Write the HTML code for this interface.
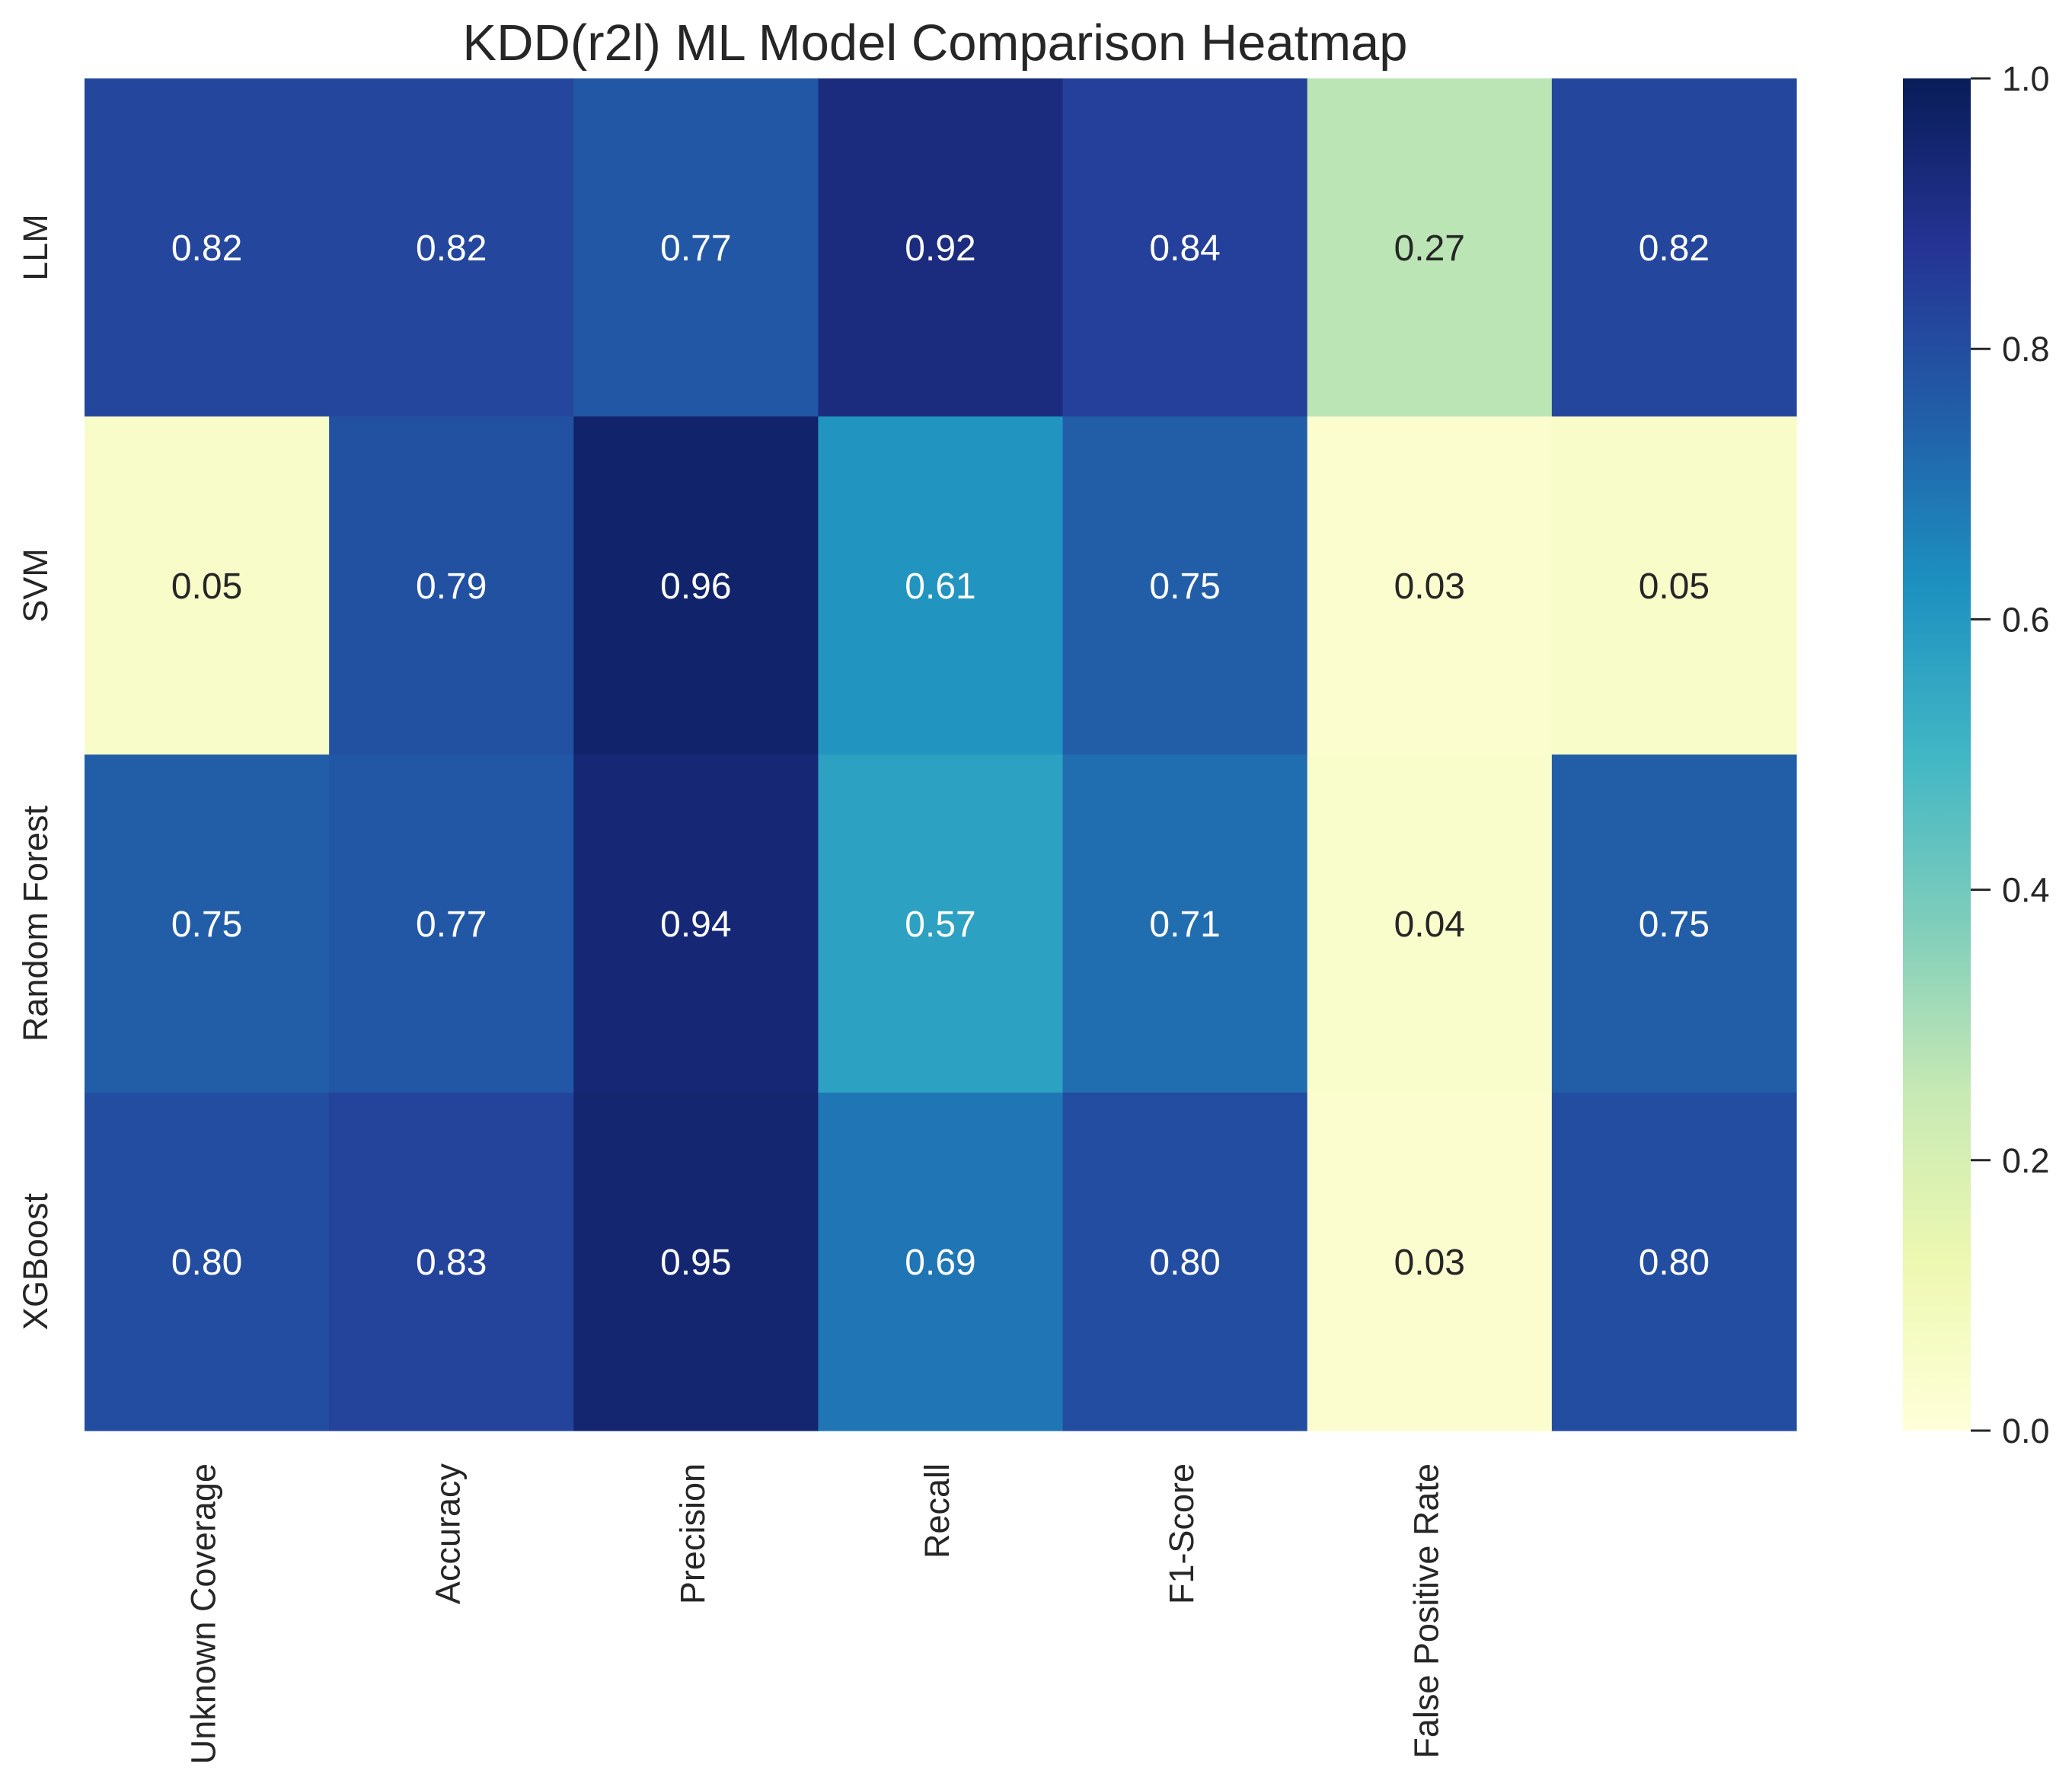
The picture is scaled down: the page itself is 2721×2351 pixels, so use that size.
<!DOCTYPE html>
<html><head><meta charset="utf-8"><style>
html,body{margin:0;padding:0;background:#fff;}
svg{display:block;font-family:"Liberation Sans",Arial,sans-serif;}
</style></head><body>
<svg id="chart" width="2721" height="2351" viewBox="0 0 2721 2351" xmlns="http://www.w3.org/2000/svg">
<defs>
<linearGradient id="cbgrad" x1="0" y1="1" x2="0" y2="0">
<stop offset="0" stop-color="#ffffd9"/><stop offset="0.125" stop-color="#edf8b1"/><stop offset="0.25" stop-color="#c7e9b4"/><stop offset="0.375" stop-color="#7fcdbb"/><stop offset="0.5" stop-color="#41b6c4"/><stop offset="0.625" stop-color="#1d91c0"/><stop offset="0.75" stop-color="#225ea8"/><stop offset="0.875" stop-color="#253494"/><stop offset="1" stop-color="#081d58"/>
</linearGradient>
</defs>
<text x="1228" y="79" font-size="67" text-anchor="middle" fill="#262626">KDD(r2l) ML Model Comparison Heatmap</text>
<g id="cells"></g>
<g id="xlabels"></g>
<g id="ylabels"></g>
<rect x="2499" y="103" width="89" height="1776" fill="url(#cbgrad)"/>
<g id="cbticks"></g>
</svg>
<script>
const models = ["LLM", "SVM", "Random Forest", "XGBoost"];
const metrics = ["Unknown Coverage", "Accuracy", "Precision", "Recall", "F1-Score", "False Positive Rate", ""];
const llmValues = [0.82, 0.82, 0.77, 0.92, 0.84, 0.27, 0.82];
const svmValues = [0.05, 0.79, 0.96, 0.61, 0.75, 0.03, 0.05];
const rfValues = [0.75, 0.77, 0.94, 0.57, 0.71, 0.04, 0.75];
const xgbValues = [0.80, 0.83, 0.95, 0.69, 0.80, 0.03, 0.80];
const colorbarTicks = [0.0, 0.2, 0.4, 0.6, 0.8, 1.0];

const seriesRows = [llmValues, svmValues, rfValues, xgbValues];
const NS = "http://www.w3.org/2000/svg";
const X0 = 111, X1 = 2359, Y0 = 103, Y1 = 1879;
const cw = (X1 - X0) / metrics.length, ch = (Y1 - Y0) / models.length;
const xPos = i => X0 + i * cw;
const yPos = j => Y0 + j * ch;
const cbY = v => Y1 - v * (Y1 - Y0);
const stops = ["#ffffd9","#edf8b1","#c7e9b4","#7fcdbb","#41b6c4","#1d91c0","#225ea8","#253494","#081d58"];
function hex(h){return [1,3,5].map(k=>parseInt(h.substr(k,2),16));}
function cmap(v){
  v = Math.max(0, Math.min(1, v));
  const t = v * (stops.length - 1), i = Math.min(Math.floor(t), stops.length - 2), f = t - i;
  const a = hex(stops[i]), b = hex(stops[i+1]);
  return "rgb(" + a.map((c,k)=>Math.round(c + (b[k]-c)*f)).join(",") + ")";
}
function mk(tag, attrs, parent){
  const e = document.createElementNS(NS, tag);
  for (const k in attrs) e.setAttribute(k, attrs[k]);
  parent.appendChild(e);
  return e;
}
const cells = document.getElementById("cells");
seriesRows.forEach((row, j) => {
  row.forEach((v, i) => {
    const r = mk("rect", {x: xPos(i), y: yPos(j), width: cw + 0.6, height: ch + 0.6, fill: cmap(v)}, cells);
    
    
    const t = mk("text", {x: xPos(i) + cw/2, y: yPos(j) + ch/2 + 17, "font-size": 48, "text-anchor": "middle", fill: v > 0.5 ? "#ffffff" : "#262626"}, cells);
    t.textContent = v.toFixed(2);
    
    
  });
});
const xl = document.getElementById("xlabels");
metrics.forEach((m, i) => {
  const cx = xPos(i) + cw/2 + 11;
  const t = mk("text", {x: 0, y: 0, "font-size": 45, "text-anchor": "end", fill: "#262626", transform: "translate(" + cx + ",1922) rotate(-90)"}, xl);
  t.textContent = m;
  
  
});
const yl = document.getElementById("ylabels");
models.forEach((m, j) => {
  const cy = yPos(j) + ch/2;
  const t = mk("text", {x: 0, y: 0, "font-size": 45, "text-anchor": "middle", fill: "#262626", transform: "translate(62," + cy + ") rotate(-90)"}, yl);
  t.textContent = m;
  
  
});
const cb = document.getElementById("cbticks");
colorbarTicks.forEach(v => {
  const y = cbY(v);
  const l = mk("line", {x1: 2588, x2: 2614, y1: y, y2: y, stroke: "#262626", "stroke-width": 3}, cb);
  
  
  const t = mk("text", {x: 2629, y: y + 16, "font-size": 45, fill: "#262626"}, cb);
  t.textContent = v.toFixed(1);
  
  
});
</script>
</body></html>
